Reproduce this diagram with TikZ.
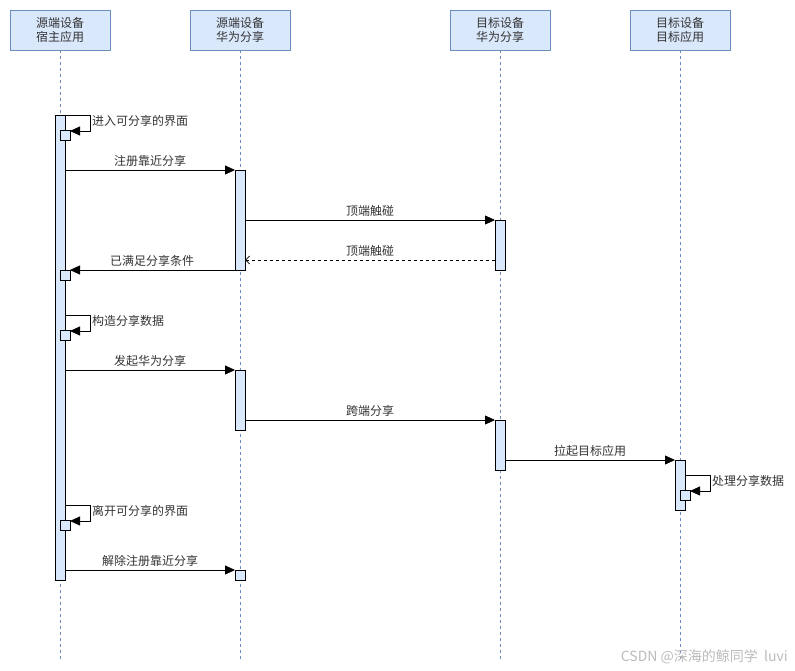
\documentclass[tikz,border=0pt]{standalone}
\usepackage{fontspec}
\setmainfont{Noto Sans CJK SC}
\usetikzlibrary{arrows.meta}
\definecolor{hdrfill}{HTML}{DAE8FC}
\definecolor{hdrdraw}{HTML}{6C8EBF}
\definecolor{txt}{HTML}{333333}
\definecolor{wm}{HTML}{BBBBBB}
\begin{document}
\begin{tikzpicture}[x=1pt,y=-1pt,
  hdr/.style={draw=hdrdraw, fill=hdrfill, minimum width=100pt, minimum height=40pt, inner sep=0pt, outer sep=0pt, align=center, font=\fontsize{12}{14}\selectfont, text=txt, line width=0.8pt},
  act/.style={draw=black, fill=hdrfill, minimum width=10pt, inner sep=0pt, outer sep=0pt, line width=0.8pt, anchor=north},
  life/.style={draw=hdrdraw, dash pattern=on 3pt off 3pt, line width=0.6pt},
  msg/.style={-{Triangle[length=10pt,width=9pt]}, line width=0.8pt},
  ret/.style={dash pattern=on 3pt off 3pt, -{Straight Barb[length=4pt,width=8pt]}, line width=0.8pt},
  lbl/.style={font=\fontsize{12}{13}\selectfont, text=txt, inner sep=1pt},
  selfbox/.style={draw=black, fill=hdrfill, minimum width=10pt, minimum height=10pt, inner sep=0pt, outer sep=0pt, line width=0.8pt, anchor=north west}]
\useasboundingbox (0,0) rectangle (795,671);
% headers
\node[hdr] (H1) at (60,30) {源端设备\\宿主应用};
\node[hdr] (H2) at (240,30) {源端设备\\华为分享};
\node[hdr] (H3) at (500,30) {目标设备\\华为分享};
\node[hdr] (H4) at (680,30) {目标设备\\目标应用};
% lifeline ends
\coordinate (E1) at (60,660);
\coordinate (E2) at (240,660);
\coordinate (E3) at (500,660);
\coordinate (E4) at (680,660);
\draw[life] (H1.south) -- (E1);
\draw[life] (H2.south) -- (E2);
\draw[life] (H3.south) -- (E3);
\draw[life] (H4.south) -- (E4);
% activations
\node[act, minimum height=465pt] (A1) at (60,115) {};
\node[act, minimum height=100pt] (A2a) at (240,170) {};
\node[act, minimum height=60pt] (A2b) at (240,370) {};
\node[act, minimum height=10pt] (A2c) at (240,570) {};
\node[act, minimum height=50pt] (A3a) at (500,220) {};
\node[act, minimum height=50pt] (A3b) at (500,420) {};
\node[act, minimum height=50pt] (A4) at (680,460) {};
% small self boxes
\node[selfbox] (S1) at (60,130) {};
\node[selfbox] (S2) at (60,270) {};
\node[selfbox] (S3) at (60,330) {};
\node[selfbox] (S4) at (60,520) {};
\node[selfbox] (S5) at (680,490) {};
% self message corners
\coordinate (C1a) at (90,115); \coordinate (C1b) at (90,131);
\coordinate (C3a) at (90,315); \coordinate (C3b) at (90,331);
\coordinate (C4a) at (90,505); \coordinate (C4b) at (90,521);
\coordinate (C5a) at (710,475); \coordinate (C5b) at (710,491);
% self messages
\draw[msg] (A1.east |- C1a) -- (C1a) -- (C1b) -- (S1.east |- C1b);
\node[lbl, anchor=west] (L1) at (91,121) {进入可分享的界面};
\draw[msg] (A1.east |- C3a) -- (C3a) -- (C3b) -- (S3.east |- C3b);
\node[lbl, anchor=west] (L3) at (91,321) {构造分享数据};
\draw[msg] (A1.east |- C4a) -- (C4a) -- (C4b) -- (S4.east |- C4b);
\node[lbl, anchor=west] (L4) at (91,511) {离开可分享的界面};
\draw[msg] (A4.east |- C5a) -- (C5a) -- (C5b) -- (S5.east |- C5b);
\node[lbl, anchor=west] (L5) at (711,481) {处理分享数据};
% messages
\draw[msg] (A1.east |- A2a.north) -- (A2a.north west);
\node[lbl, anchor=south] (M1) at (150,168) {注册靠近分享};
\draw[msg] (A2a.east |- A3a.north) -- (A3a.north west);
\node[lbl, anchor=south] (M2) at (370,218) {顶端触碰};
\draw[ret] (A3a.west |- 0,260) -- (A2a.east |- 0,260);
\node[lbl, anchor=south] (M3) at (370,258) {顶端触碰};
\draw[msg] (A2a.south west) -- (S2.east |- A2a.south west);
\node[lbl, anchor=south] (M4) at (152,268) {已满足分享条件};
\draw[msg] (A1.east |- A2b.north) -- (A2b.north west);
\node[lbl, anchor=south] (M5) at (150,368) {发起华为分享};
\draw[msg] (A2b.east |- A3b.north) -- (A3b.north west);
\node[lbl, anchor=south] (M6) at (370,418) {跨端分享};
\draw[msg] (A3b.east |- A4.north) -- (A4.north west);
\node[lbl, anchor=south] (M7) at (590,458) {拉起目标应用};
\draw[msg] (A1.east |- A2c.north) -- (A2c.north west);
\node[lbl, anchor=south] (M8) at (150,568) {解除注册靠近分享};
% watermark
\node[font=\fontsize{14}{16}\selectfont, text=wm, anchor=east, inner sep=0pt] (WM) at (788,657) {CSDN @深海的鲸同学\ \ luvi};
\end{tikzpicture}
\end{document}
